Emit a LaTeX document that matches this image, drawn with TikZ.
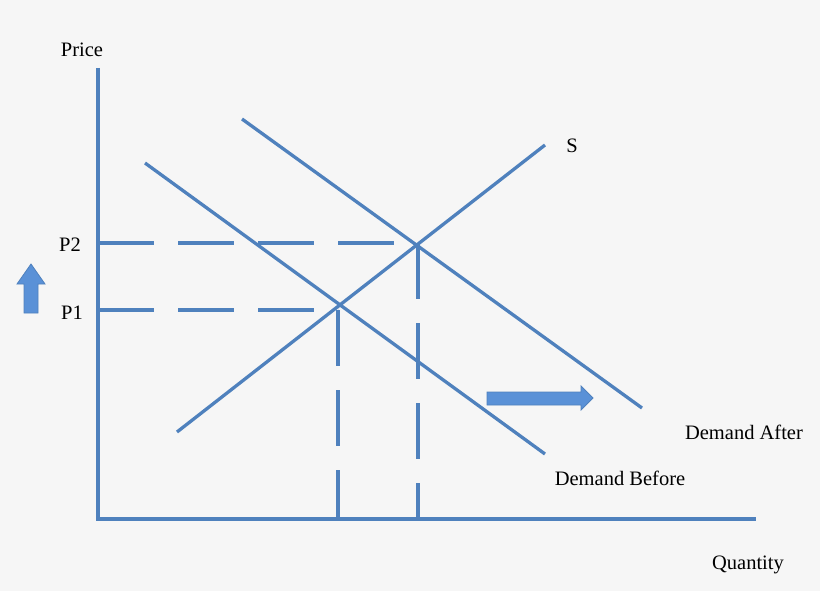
\documentclass[tikz,border=0pt]{standalone}
\usepackage{fontspec}
\setmainfont{Liberation Serif}
\definecolor{ln}{RGB}{79,129,189}
\definecolor{bg}{RGB}{246,246,246}
\definecolor{arr}{RGB}{90,145,215}
\begin{document}
\begin{tikzpicture}[x=1pt,y=-1pt,
  curve/.style={ln,line width=3.3pt},
  guide/.style={ln,line width=3.3pt,dash pattern=on 56pt off 24pt},
  lbl/.style={font=\fontsize{20.5}{23}\selectfont,text=black,inner sep=0pt},
  fat/.style={fill=arr,draw=ln,line width=0.8pt,line join=miter}]
\fill[bg] (0,0) rectangle (820,591);
\useasboundingbox (0,0) rectangle (820,591);
\coordinate (top) at (98,68);
\coordinate (o) at (98,519);
\coordinate (xend) at (756,519);
\coordinate (s1) at (177,432); \coordinate (s2) at (545,145);
\coordinate (d1) at (145,163); \coordinate (d2) at (545,454);
\coordinate (a1) at (242,119); \coordinate (a2) at (642,408);
\coordinate (e1) at (338,310); \coordinate (e2) at (418,243);
\coordinate (y1) at (98,310); \coordinate (y2) at (98,243);
\coordinate (x1) at (338,519); \coordinate (x2) at (418,519);
\draw[curve] (top) -- (o) -- (xend);
\draw[curve] (s1) -- (s2);
\draw[curve] (d1) -- (d2);
\draw[curve] (a1) -- (a2);
\draw[guide] (y2) -- (e2);
\draw[guide] (y1) -- (e1);
\draw[guide] (e1) -- (x1);
\draw[guide] (e2) -- (x2);
\node[lbl] (price) at (82,50) {Price};
\node[lbl] (p2) at (70,245) {P2};
\node[lbl] (p1) at (72,313) {P1};
\node[lbl] (S) at (572,146) {S};
\node[lbl] (da) at (744,432) {Demand After};
\node[lbl] (db) at (620,478) {Demand Before};
\node[lbl] (q) at (748,565) {Quantity};
\draw[fat] (24,313) -- (24,284) -- (17,284) -- (31,264) -- (45,284) -- (38,284) -- (38,313) -- cycle;
\draw[fat] (487,392) -- (581,392) -- (581,386) -- (593,398) -- (581,410) -- (581,405) -- (487,405) -- cycle;
\end{tikzpicture}
\end{document}
